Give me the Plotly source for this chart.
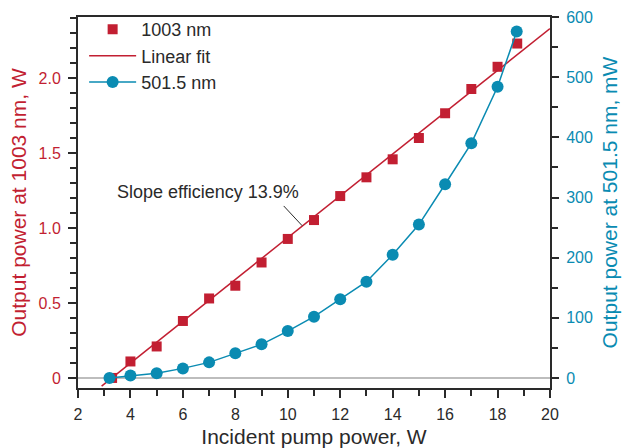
import plotly.graph_objects as go

# ---- data ----
pump_1003 = [3.3, 4, 5, 6, 7, 8, 9, 10, 11, 12, 13, 14, 15, 16, 17, 18, 18.75]
power_1003 = [0.0, 0.11, 0.21, 0.38, 0.53, 0.615, 0.77, 0.927, 1.053, 1.213, 1.338,
              1.458, 1.60, 1.765, 1.927, 2.075, 2.23]

fit_x = [2.9, 20.0]
fit_y = [-0.054, 2.33]

pump_501 = [3.2, 4, 5, 6, 7, 8, 9, 10, 11, 12, 13, 14, 15, 16, 17, 18, 18.73]
power_501 = [0, 4, 8, 16, 26, 41, 56, 78, 102, 131, 160, 205, 255, 322, 390, 484, 576]

x_ticks = [2, 4, 6, 8, 10, 12, 14, 16, 18, 20]
y1_ticks = [0, 0.5, 1.0, 1.5, 2.0]
y1_ticklabels = ["0", "0.5", "1.0", "1.5", "2.0"]
y2_ticks = [0, 100, 200, 300, 400, 500, 600]

RED = "#C21F32"
BLUE = "#0A8BB2"
DARK = "#2a2a2a"
FONT = "Liberation Sans, Arial, Helvetica, sans-serif"

fig = go.Figure()

fig.add_trace(go.Scatter(
    x=pump_1003, y=power_1003, mode="markers", name="1003 nm",
    marker=dict(symbol="square", size=10, color=RED), yaxis="y"))
fig.add_trace(go.Scatter(
    x=fit_x, y=fit_y, mode="lines", name="Linear fit",
    line=dict(color=RED, width=1.5), yaxis="y"))
fig.add_trace(go.Scatter(
    x=pump_501, y=power_501, mode="lines+markers", name="501.5 nm",
    line=dict(color=BLUE, width=1.5),
    marker=dict(symbol="circle", size=12, color=BLUE), yaxis="y2"))

fig.add_shape(type="line", xref="x", yref="y", x0=9.845, y0=1.147, x1=10.55, y1=1.015,
              line=dict(color=DARK, width=1))
fig.add_annotation(x=6.95, y=1.24, xref="x", yref="y", text="Slope efficiency 13.9%",
                   showarrow=False, font=dict(size=18, color=DARK, family=FONT))

fig.update_layout(
    width=624, height=448,
    margin=dict(l=78, r=74, t=17, b=60, autoexpand=False),
    paper_bgcolor="white", plot_bgcolor="white",
    font=dict(family=FONT, size=16, color=DARK),
    showlegend=True,
    legend=dict(x=0.013, y=1.016, xanchor="left", yanchor="top",
                bgcolor="rgba(0,0,0,0)", font=dict(size=18, color=DARK),
                tracegroupgap=0, itemwidth=47),
    xaxis=dict(
        range=[2, 20], tickvals=x_ticks, showgrid=False, zeroline=False, automargin=False,
        showline=True, linecolor=DARK, linewidth=2, mirror=True,
        ticks="outside", ticklen=8, tickwidth=1.5, tickcolor=DARK,
        minor=dict(dtick=1, tick0=2, ticks="outside", ticklen=6, tickwidth=1.5, tickcolor=DARK),
        tickfont=dict(size=16, color=DARK), ticklabelstandoff=3,
        title=dict(text="Incident pump power, W", font=dict(size=21, color=DARK), standoff=8),
    ),
    yaxis=dict(
        range=[-0.067, 2.407], tickvals=y1_ticks, ticktext=y1_ticklabels, automargin=False,
        showgrid=False, zeroline=True, zerolinecolor="#bdbdbd", zerolinewidth=1.5,
        showline=True, linecolor=DARK, linewidth=2,
        ticks="outside", ticklen=8, tickwidth=1.5, tickcolor=DARK,
        minor=dict(dtick=0.1, tick0=0, ticks="outside", ticklen=6, tickwidth=1.5, tickcolor=DARK),
        tickfont=dict(size=16, color=RED), ticklabelstandoff=4,
        title=dict(text="Output power at 1003 nm, W", font=dict(size=21, color=RED), standoff=6),
    ),
    yaxis2=dict(
        range=[-16.6, 600], tickvals=y2_ticks, overlaying="y", side="right", automargin=False,
        showgrid=False, zeroline=False,
        showline=True, linecolor=DARK, linewidth=2,
        ticks="outside", ticklen=7, tickwidth=1.5, tickcolor=DARK,
        minor=dict(dtick=50, tick0=0, ticks="outside", ticklen=6, tickwidth=1.5, tickcolor=DARK),
        tickfont=dict(size=16, color=BLUE), ticklabelstandoff=4,
        title=dict(text="Output power at 501.5 nm, mW", font=dict(size=21, color=BLUE), standoff=10),
    ),
)

fig.write_html("out.html")
